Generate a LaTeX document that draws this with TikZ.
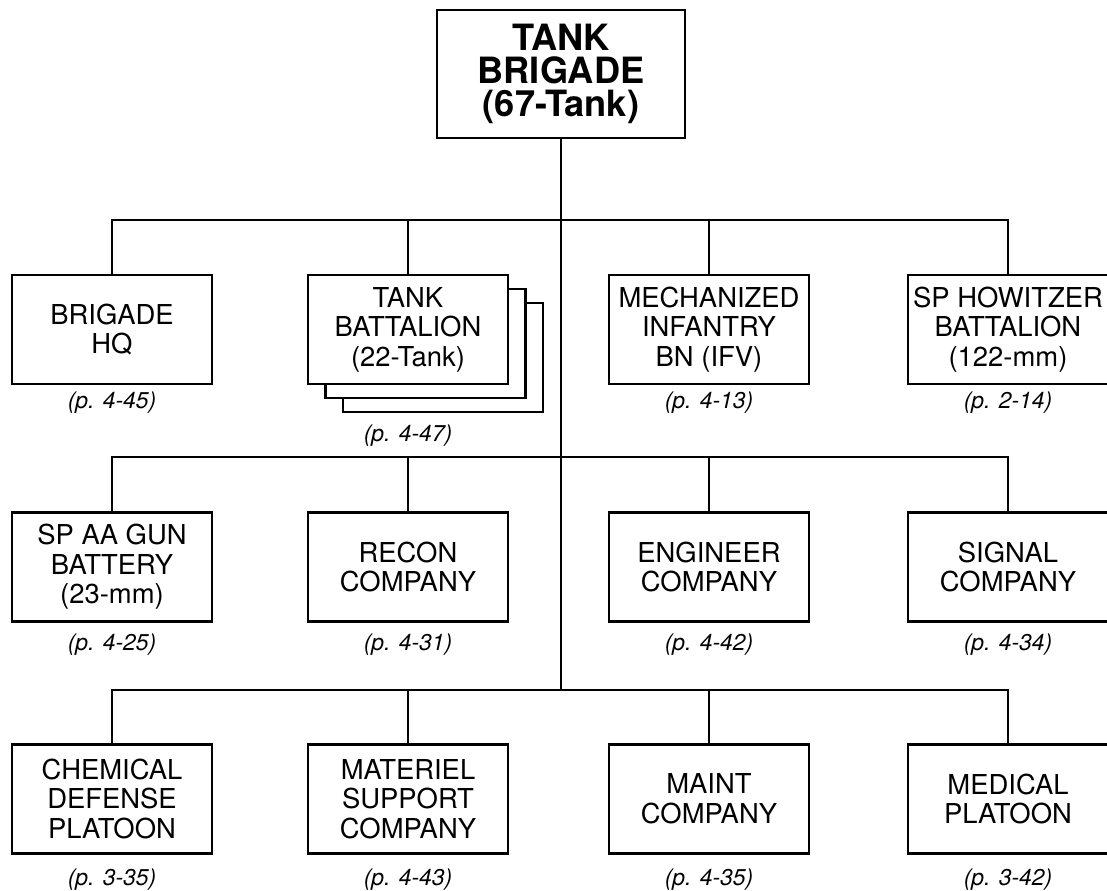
\documentclass[tikz,border=0pt]{standalone}
\usepackage{fontspec}
\setmainfont{TeX Gyre Heros}
\begin{document}
\begin{tikzpicture}[
		einheit/.style={draw, line width=0.7pt, fill=white, minimum width=2cm, minimum height=1.09cm, inner sep=1pt, align=center, font=\fontsize{7.8}{8.4}\selectfont},
		stab/.style={draw, line width=0.7pt, fill=white, minimum width=2.48cm, minimum height=1.28cm, inner sep=1pt, align=center, font=\fontsize{10.3}{9.4}\selectfont\bfseries},
		seite/.style={inner sep=0pt, font=\fontsize{6.5}{7}\selectfont\itshape},
		linie/.style={line width=0.6pt}
	]
			\useasboundingbox (0,0) rectangle (11.07,8.91);
			%\draw [lightgray](0,0) grid (11,9);
			
			% Zeichnet die Brigade ganz oben
			\node[stab] (brig) at (5.61,8.17) {TANK\\BRIGADE\\(67-Tank)};
			
			% Punkte auf dem Hauptstrang, an denen die drei Querlinien haengen
			\coordinate (bus1) at (5.61,6.71);
			\coordinate (bus2) at (5.61,4.34);
			\coordinate (bus3) at (5.61,2.01);
			
			% Zeichnet den Hauptstrang nach unten
			\draw[linie] (brig.south) -- (bus3);
			
			% Erste Reihe (Stab und Bataillone)
			\node[einheit] (hq) at (1.12,5.615) {BRIGADE\\HQ};
			\node[einheit] (tbn3) at (4.43,5.335) {};
			\node[einheit] (tbn2) at (4.255,5.475) {};
			\node[einheit] (tbn) at (4.08,5.615) {TANK\\BATTALION\\(22-Tank)};
			\node[einheit] (mech) at (7.09,5.615) {MECHANIZED\\INFANTRY\\BN (IFV)};
			\node[einheit] (how) at (10.08,5.615) {SP HOWITZER\\BATTALION\\(122-mm)};
			
			% Zeichnet die Verbindungen der ersten Reihe
			\draw[linie] (hq.north) |- (bus1);
			\draw[linie] (tbn.north) |- (bus1);
			\draw[linie] (mech.north) |- (bus1);
			\draw[linie] (how.north) |- (bus1);
			
			% Seitenangaben der ersten Reihe
			\node[seite] (hqp) at (1.12,4.88) {(p. 4-45)};
			\node[seite] (tbnp) at (4.08,4.55) {(p. 4-47)};
			\node[seite] (mechp) at (7.09,4.88) {(p. 4-13)};
			\node[seite] (howp) at (10.08,4.88) {(p. 2-14)};
			
			% Zweite Reihe (Kompanien und Batterie)
			\node[einheit] (aa) at (1.12,3.24) {SP AA GUN\\BATTERY\\(23-mm)};
			\node[einheit] (recon) at (4.08,3.24) {RECON\\COMPANY};
			\node[einheit] (eng) at (7.09,3.24) {ENGINEER\\COMPANY};
			\node[einheit] (sig) at (10.08,3.24) {SIGNAL\\COMPANY};
			
			% Zeichnet die Verbindungen der zweiten Reihe
			\draw[linie] (aa.north) |- (bus2);
			\draw[linie] (recon.north) |- (bus2);
			\draw[linie] (eng.north) |- (bus2);
			\draw[linie] (sig.north) |- (bus2);
			
			% Seitenangaben der zweiten Reihe
			\node[seite] (aap) at (1.12,2.46) {(p. 4-25)};
			\node[seite] (reconp) at (4.08,2.46) {(p. 4-31)};
			\node[seite] (engp) at (7.09,2.46) {(p. 4-42)};
			\node[seite] (sigp) at (10.08,2.46) {(p. 4-34)};
			
			% Dritte Reihe (Versorgung)
			\node[einheit] (chem) at (1.12,0.92) {CHEMICAL\\DEFENSE\\PLATOON};
			\node[einheit] (mat) at (4.08,0.92) {MATERIEL\\SUPPORT\\COMPANY};
			\node[einheit] (maint) at (7.09,0.92) {MAINT\\COMPANY};
			\node[einheit] (med) at (10.08,0.92) {MEDICAL\\PLATOON};
			
			% Zeichnet die Verbindungen der dritten Reihe
			\draw[linie] (chem.north) |- (bus3);
			\draw[linie] (mat.north) |- (bus3);
			\draw[linie] (maint.north) |- (bus3);
			\draw[linie] (med.north) |- (bus3);
			
			% Seitenangaben der dritten Reihe
			\node[seite] (chemp) at (1.12,0.11) {(p. 3-35)};
			\node[seite] (matp) at (4.08,0.11) {(p. 4-43)};
			\node[seite] (maintp) at (7.09,0.11) {(p. 4-35)};
			\node[seite] (medp) at (10.08,0.11) {(p. 3-42)};
		\end{tikzpicture}
\end{document}
